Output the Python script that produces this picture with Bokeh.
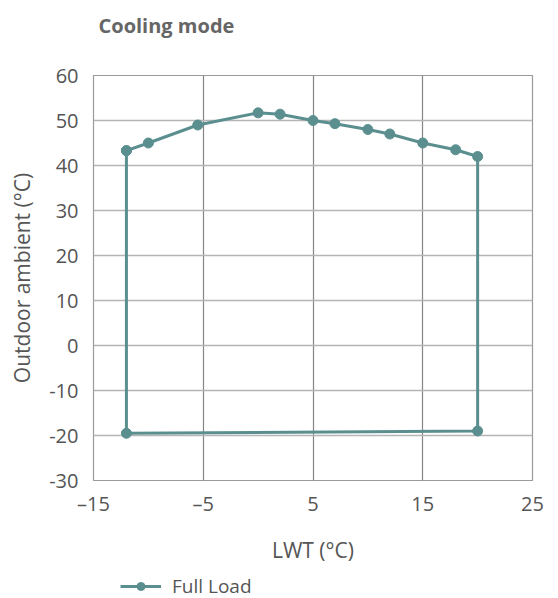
from bokeh.plotting import figure
from bokeh.models import Range1d, FixedTicker, Legend, LegendItem, Title
from bokeh.layouts import column
from bokeh.embed import file_html
from bokeh.resources import INLINE

# Data
lwt = [-12, -10, -5.5, 0, 2, 5, 7, 10, 12, 15, 18, 20, 20, -12, -12]
ambient = [43.3, 45, 49, 51.7, 51.4, 50, 49.3, 48, 47, 45, 43.5, 42, -19, -19.5, 43.3]
x_ticks = [-15, -5, 5, 15, 25]
y_ticks = [-30, -20, -10, 0, 10, 20, 30, 40, 50, 60]
series_name = "Full Load"
title_text = "Cooling mode"
x_label = "LWT (°C)"
y_label = "Outdoor ambient (°C)"

FONT = "Open Sans"
TEAL = "#5b8f8f"
TXT = "#555555"

p = figure(width=558, height=566, output_backend="svg", toolbar_location=None, title=None,
           x_range=Range1d(-15, 25), y_range=Range1d(-30, 60),
           min_border_left=93, min_border_right=26, min_border_top=75, min_border_bottom=83)

# spacer between frame and title (nearest the frame)
spacer = Title(text=" ", text_font=FONT, text_font_size="10px", standoff=16)
p.add_layout(spacer, "above")
main_title = Title(text=title_text, text_font=FONT, text_font_size="20px", text_font_style="bold",
                   text_color="#666666", offset=5, standoff=10, align="left")
p.add_layout(main_title, "above")

p.outline_line_color = "#9a9a9a"
p.outline_line_width = 1.2
p.background_fill_color = "white"
p.border_fill_color = "white"

for ax in (p.xaxis[0], p.yaxis[0]):
    ax.axis_line_color = None
    ax.major_tick_line_color = None
    ax.minor_tick_line_color = None
    ax.major_tick_out = 0
    ax.major_tick_in = 0
    ax.major_label_text_font = FONT
    ax.major_label_text_font_size = "20px"
    ax.major_label_text_color = TXT
    ax.axis_label_text_font = FONT
    ax.axis_label_text_font_size = "21px"
    ax.axis_label_text_font_style = "normal"
    ax.axis_label_text_color = TXT

p.xaxis.ticker = FixedTicker(ticks=x_ticks)
p.yaxis.ticker = FixedTicker(ticks=y_ticks)
p.xaxis.major_label_overrides = {t: ("–" + str(abs(t)) if t < 0 else str(t)) for t in x_ticks}
p.yaxis.major_label_overrides = {t: ("-" + str(abs(t)) if t < 0 else str(t)) for t in y_ticks}
p.xaxis.axis_label = x_label
p.yaxis.axis_label = y_label
p.xaxis.major_label_standoff = 9
p.xaxis.axis_label_standoff = 16
p.yaxis.major_label_standoff = 15
p.yaxis.axis_label_standoff = 10

p.xgrid.grid_line_color = "#858585"
p.xgrid.grid_line_width = 1.2
p.ygrid.grid_line_color = "#b5b5b5"
p.ygrid.grid_line_width = 1.5

p.line(lwt, ambient, line_color=TEAL, line_width=3)
p.scatter(lwt, ambient, size=10, fill_color=TEAL, line_color=TEAL)

# legend strip below the chart
q = figure(width=558, height=32, output_backend="svg", toolbar_location=None,
           x_range=Range1d(1000, 1001), y_range=Range1d(1000, 1001),
           x_axis_location=None, y_axis_location=None, min_border=0)
q.outline_line_color = None
q.grid.visible = False
q.border_fill_color = "white"
lq = q.line(lwt, ambient, line_color=TEAL, line_width=3)
sq = q.scatter(lwt, ambient, size=10, fill_color=TEAL, line_color=TEAL)
legend = Legend(items=[LegendItem(label=series_name, renderers=[lq, sq])],
                location=(27, -1), padding=0, margin=0, spacing=0,
                glyph_width=41, glyph_height=20, label_standoff=11, label_height=20,
                label_text_font=FONT, label_text_font_size="19px", label_text_color=TXT,
                border_line_color=None, background_fill_alpha=0)
q.add_layout(legend)

layout = column(p, q, spacing=0)
open("out.html", "w").write(file_html(layout, INLINE))
